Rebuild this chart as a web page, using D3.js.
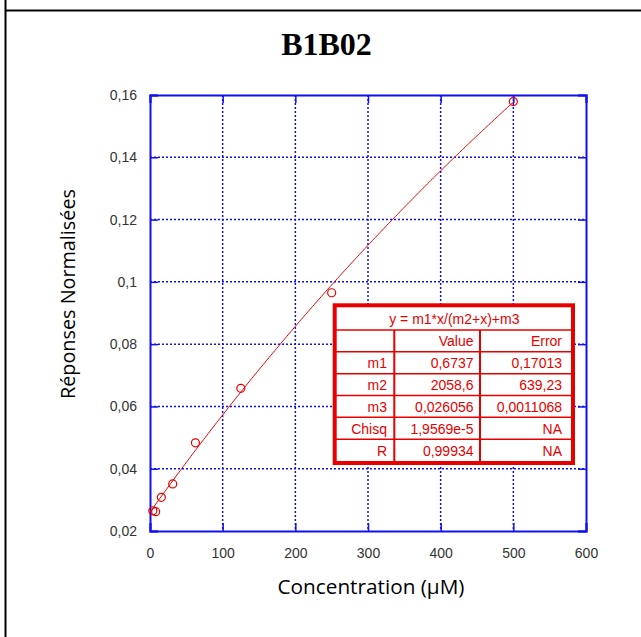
<!DOCTYPE html>
<html><head><meta charset="utf-8">
<script src="https://cdn.jsdelivr.net/npm/d3@7"></script>
<style>html,body{margin:0;padding:0;background:#fff;}svg{display:block;}</style>
</head><body>
<script>
// ---- data ----
const concentrations = [3.9, 7.8, 15.6, 31.25, 62.5, 125, 250, 500];
const responses = [0.0265, 0.0262, 0.0308, 0.0351, 0.0483, 0.0658, 0.0965, 0.1579];
const xTicks = [0, 100, 200, 300, 400, 500, 600];
const yTicks = [0.02, 0.04, 0.06, 0.08, 0.10, 0.12, 0.14, 0.16];
const yTickLabels = ["0,02", "0,04", "0,06", "0,08", "0,1", "0,12", "0,14", "0,16"];
const fitEquation = "y = m1*x/(m2+x)+m3";
const tableColumns = ["", "Value", "Error"];
const rowNames = ["m1", "m2", "m3", "Chisq", "R"];
const rowValues = ["0,6737", "2058,6", "0,026056", "1,9569e-5", "0,99934"];
const rowErrors = ["0,17013", "639,23", "0,0011068", "NA", "NA"];
const fitM1 = 0.6737, fitM2 = 2058.6, fitM3 = 0.026056;
const fitRange = [0, 500];
const title = "B1B02";
const xTitle = "Concentration (µM)";
const yTitle = "Réponses Normalisées";

// ---- drawing ----
const W = 641, H = 637;
const svg = d3.select("body").append("svg").attr("width", W).attr("height", H);
const blue = "#1010f0", red = "#e80000";

// page frame lines
svg.append("line").attr("x1", 5.5).attr("x2", 5.5).attr("y1", 0).attr("y2", H)
  .attr("stroke", "#000").attr("stroke-width", 2);
svg.append("line").attr("x1", 5).attr("x2", W).attr("y1", 10.5).attr("y2", 10.5)
  .attr("stroke", "#000").attr("stroke-width", 2);

const L = 150, R = 586, T = 95, B = 531;
const x = d3.scaleLinear().domain([0, 600]).range([L, R]);
const y = d3.scaleLinear().domain([0.02, 0.16]).range([B, T]);

// grid
const g = svg.append("g");
g.selectAll(".gx").data(xTicks.slice(1, -1)).join("line")
  .attr("x1", d => x(d)).attr("x2", d => x(d)).attr("y1", T).attr("y2", B)
  .attr("stroke", blue).attr("stroke-width", 1.5).attr("stroke-dasharray", "2,2");
g.selectAll(".gy").data(yTicks.slice(1, -1)).join("line")
  .attr("y1", d => y(d)).attr("y2", d => y(d)).attr("x1", L).attr("x2", R)
  .attr("stroke", blue).attr("stroke-width", 1.5).attr("stroke-dasharray", "2,2");

// axes with inward ticks on all sides
const fmtY = d => yTickLabels[yTicks.indexOf(d)];
const axB = svg.append("g").attr("transform", `translate(0,${B})`)
  .call(d3.axisBottom(x).tickValues(xTicks).tickSize(-8).tickPadding(17).tickFormat(d3.format("d")));
const axT = svg.append("g").attr("transform", `translate(0,${T})`)
  .call(d3.axisTop(x).tickValues(xTicks).tickSize(-8).tickFormat(""));
const axL = svg.append("g").attr("transform", `translate(${L},0)`)
  .call(d3.axisLeft(y).tickValues(yTicks).tickSize(-8).tickPadding(13).tickFormat(fmtY));
const axR = svg.append("g").attr("transform", `translate(${R},0)`)
  .call(d3.axisRight(y).tickValues(yTicks).tickSize(-8).tickFormat(""));
[axB, axT, axL, axR].forEach(a => {
  a.select(".domain").attr("stroke", blue).attr("stroke-width", 2);
  a.selectAll(".tick line").attr("stroke", blue).attr("stroke-width", 1.5);
  a.selectAll(".tick text").attr("fill", "#333").attr("font-family", "Liberation Sans, Arial, sans-serif").attr("font-size", 14);
});

// fit curve
const curveX = d3.range(fitRange[0], fitRange[1] + 0.001, 2);
const line = d3.line().x(d => x(d)).y(d => y(fitM1 * d / (fitM2 + d) + fitM3));
svg.append("path").datum(curveX).attr("d", line).attr("fill", "none")
  .attr("stroke", red).attr("stroke-width", 1);

// data points
svg.selectAll(".pt").data(concentrations).join("circle")
  .attr("cx", d => x(d)).attr("cy", (d, i) => y(responses[i])).attr("r", 4)
  .attr("fill", "none").attr("stroke", red).attr("stroke-width", 1.2);

// results table
const tx0 = 334.7, tx1 = 573, ty0 = 305.3, ty1 = 463;
const innerTop = 307.3, headBottom = 330, innerBottom = 461;
const colX = [394.3, 480];
const rowH = (innerBottom - headBottom) / 6;
const tbl = svg.append("g");
tbl.append("rect").attr("x", tx0).attr("y", ty0).attr("width", tx1 - tx0).attr("height", ty1 - ty0)
  .attr("fill", "#fff").attr("stroke", red).attr("stroke-width", 4);
const hLines = d3.range(0, 6).map(i => headBottom + i * rowH);
tbl.selectAll(".hl").data(hLines).join("line")
  .attr("x1", tx0).attr("x2", tx1).attr("y1", d => d).attr("y2", d => d)
  .attr("stroke", red).attr("stroke-width", 1.5);
tbl.selectAll(".vl").data(colX).join("line")
  .attr("x1", d => d).attr("x2", d => d).attr("y1", headBottom).attr("y2", ty1)
  .attr("stroke", red).attr("stroke-width", 2);
const tf = "Liberation Sans, Arial, sans-serif";
tbl.append("text").attr("x", (tx0 + tx1) / 2 + 0.5).attr("y", 323.5).attr("text-anchor", "middle")
  .attr("font-family", tf).attr("font-size", 14).attr("fill", red).text(fitEquation);
const textRight = [387, 473.5, 562];
const rows = [tableColumns].concat(rowNames.map((n, i) => [n, rowValues[i], rowErrors[i]]));
rows.forEach((r, ri) => {
  const base = headBottom + (ri + 1) * rowH - 5.5;
  r.forEach((c, ci) => {
    tbl.append("text").attr("x", textRight[ci]).attr("y", base).attr("text-anchor", "end")
      .attr("font-family", tf).attr("font-size", 14).attr("fill", red).text(c);
  });
});

// titles
svg.append("text").attr("x", 326.5).attr("y", 55).attr("text-anchor", "middle")
  .attr("font-family", "Liberation Serif, Times New Roman, serif").attr("font-weight", "bold")
  .attr("font-size", 32).attr("fill", "#000").text(title);

function fitText(sel, target) {
  const len = sel.node().getComputedTextLength();
  const fs = +sel.attr("font-size");
  sel.attr("font-size", fs * target / len);
}
const xt = svg.append("text").attr("x", 371).attr("y", 594).attr("text-anchor", "middle")
  .attr("font-family", "Open Sans, sans-serif").attr("font-size", 18).attr("fill", "#000").text(xTitle);
fitText(xt, 187);
const yt = svg.append("text").attr("transform", "translate(75,294) rotate(-90)").attr("text-anchor", "middle")
  .attr("font-family", "Open Sans, sans-serif").attr("font-size", 18).attr("fill", "#000").text(yTitle);
fitText(yt, 210);
</script>
</body></html>
